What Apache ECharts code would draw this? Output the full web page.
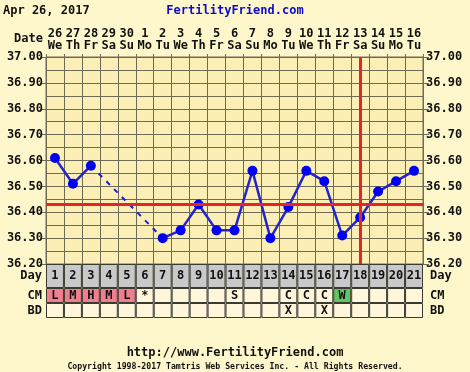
<!DOCTYPE html>
<html><head><meta charset="utf-8">
<script src="https://cdn.jsdelivr.net/npm/echarts@6/dist/echarts.min.js"></script>
<style>html,body{margin:0;padding:0;background:#fff7cc;}#c{width:470px;height:372px;}</style>
</head><body><div id="c"></div>
<script>
const chartDate = 'Apr 26, 2017';
const siteName = 'FertilityFriend.com';
const footerUrl = 'http://www.FertilityFriend.com';
const copyright = 'Copyright 1998-2017 Tamtris Web Services Inc. - All Rights Reserved.';
const dates = ['26','27','28','29','30','1','2','3','4','5','6','7','8','9','10','11','12','13','14','15','16'];
const weekdays = ['We','Th','Fr','Sa','Su','Mo','Tu','We','Th','Fr','Sa','Su','Mo','Tu','We','Th','Fr','Sa','Su','Mo','Tu'];
const cycleDays = ['1','2','3','4','5','6','7','8','9','10','11','12','13','14','15','16','17','18','19','20','21'];
const temps = [36.61,36.51,36.58,null,null,null,36.30,36.33,36.43,36.33,36.33,36.56,36.30,36.42,36.56,36.52,36.31,36.38,36.48,36.52,36.56];
const coverline = 36.43;
const ovulationDay = '18';
const cmMarks = ['L','M','H','M','L','*','','','','','S','','','C','C','C','W','','','',''];
const bdMarks = ['','','','','','','','','','','','','','X','','X','','','','',''];
const yTicks = ['36.20','36.30','36.40','36.50','36.60','36.70','36.80','36.90','37.00'];

const FONT = 'DejaVu Sans Mono';
const INK = '#111';
const GRIDC = '#6e6a55';
const flowColor = '#ef7f8e', wetColor = '#63c463', cellColor = '#fff6dc', dayColor = '#c9c9c9';
function cmColor(m){ return (m==='L'||m==='M'||m==='H') ? flowColor : (m==='W' ? wetColor : cellColor); }

const n = temps.length;
const dashed = temps.map((v,i)=> v!=null && ((i>0 && temps[i-1]==null) || (i<n-1 && temps[i+1]==null)) ? v : null);
const yMin = parseFloat(yTicks[0]), yMax = parseFloat(yTicks[yTicks.length-1]);

const chart = echarts.init(document.getElementById('c'), null, {renderer:'canvas'});
const txt = {fontFamily: FONT, fontWeight: 'bold', fontSize: 12, color: INK};

function tableY(label, side, gi){
  return {type:'value', gridIndex: gi, min:0, max:1, interval:0.5, position: side,
    axisLine:{show:false}, axisTick:{show:false}, splitLine:{show:false},
    axisLabel:{...txt, margin: side==='left'?4:7, formatter: v => v===0.5 ? label : ''}};
}
function tableX(gi){
  return {type:'category', gridIndex: gi, data: cycleDays, boundaryGap: true,
    axisLine:{show:false}, axisTick:{show:false}, axisLabel:{show:false}, splitLine:{show:false}};
}
function tableSeries(gi, marks, colorFn){
  return {type:'bar', xAxisIndex: gi, yAxisIndex: gi*2, barCategoryGap:'0%', barWidth:'100%',
    silent:true, animation:false,
    data: marks.map(m => ({value:1, itemStyle:{color: colorFn(m)}})),
    itemStyle:{borderColor:'#3a3a30', borderWidth:1},
    label:{show:true, position:'inside', ...txt, formatter: p => marks[p.dataIndex]}};
}

const option = {
  backgroundColor: '#fff7cc',
  animation: false,
  title: [
    {text: chartDate, left: 3, top: 5, padding: 0, textStyle:{...txt}},
    {text: siteName, left: 'center', top: 5, padding: 0, textStyle:{...txt, color:'#0a0ad0'}},
    {text: 'Date', left: 14, top: 33, padding: 0, textStyle:{...txt}},
    {text: footerUrl, left: 'center', top: 347, padding: 0, textStyle:{...txt}},
    {text: copyright, left: 'center', top: 363, padding: 0, textStyle:{fontFamily: FONT, fontSize: 8.2, color: INK}}
  ],
  grid: [
    {left:46, right:47, top:57, height:207, show:true, backgroundColor:'#fcefb6', borderColor: GRIDC, borderWidth:1},
    {left:46, right:47, top:264, height:24},
    {left:46, right:47, top:288, height:15},
    {left:46, right:47, top:303, height:15}
  ],
  xAxis: [
    {type:'category', gridIndex:0, data: cycleDays, position:'top', boundaryGap:true,
      axisLine:{show:true, lineStyle:{color: GRIDC}}, axisTick:{show:true, length:3, lineStyle:{color:GRIDC}},
      splitLine:{show:true, lineStyle:{color: GRIDC, width:1}},
      axisLabel:{...txt, margin:5, lineHeight:12, interval:0, formatter:(v,i)=> dates[i] + '\n' + weekdays[i]}},
    tableX(1), tableX(2), tableX(3)
  ],
  yAxis: [
    {type:'value', gridIndex:0, min:yMin, max:yMax, interval:0.1, position:'left',
      axisLine:{show:true, lineStyle:{color:GRIDC}}, axisTick:{show:true, length:6, lineStyle:{color:GRIDC}},
      axisLabel:{...txt, margin:3, formatter: v => v.toFixed(2)},
      splitLine:{show:true, lineStyle:{color:GRIDC, width:1}},
      minorTick:{show:false, splitNumber:2},
      minorSplitLine:{show:true, lineStyle:{color:GRIDC, width:1}}},
    {type:'value', gridIndex:0, min:yMin, max:yMax, interval:0.1, position:'right',
      axisLine:{show:true, lineStyle:{color:GRIDC}}, axisTick:{show:true, length:6, lineStyle:{color:GRIDC}},
      axisLabel:{...txt, margin:3, formatter: v => v.toFixed(2)},
      splitLine:{show:false}},
    tableY('Day','left',1), tableY('Day','right',1),
    tableY('CM','left',2), tableY('CM','right',2),
    tableY('BD','left',3), tableY('BD','right',3)
  ],
  series: [
    {type:'line', xAxisIndex:0, yAxisIndex:0, data: dashed, connectNulls:true, symbol:'none',
      lineStyle:{color:'#1c1cc8', width:2, type:[5,6]}, z:3},
    {type:'line', xAxisIndex:0, yAxisIndex:0, data: temps, connectNulls:false, symbol:'circle', symbolSize:10,
      lineStyle:{color:'#2424c8', width:2.5}, itemStyle:{color:'#0000f0'}, z:4,
      markLine:{silent:true, symbol:'none', label:{show:false}, animation:false,
        lineStyle:{color:'#e3262a', width:3, type:'solid'},
        data:[{yAxis: coverline}, {xAxis: ovulationDay}]}},
    {type:'bar', xAxisIndex:1, yAxisIndex:2, barCategoryGap:'0%', barWidth:'100%', silent:true,
      data: cycleDays.map(d => ({value:1, itemStyle:{color: dayColor}})),
      itemStyle:{borderColor:'#3a3a30', borderWidth:1},
      label:{show:true, position:'inside', ...txt, formatter: p => cycleDays[p.dataIndex]}},
    tableSeries(2, cmMarks, cmColor),
    tableSeries(3, bdMarks, () => cellColor)
  ]
};
chart.setOption(option);
</script></body></html>
